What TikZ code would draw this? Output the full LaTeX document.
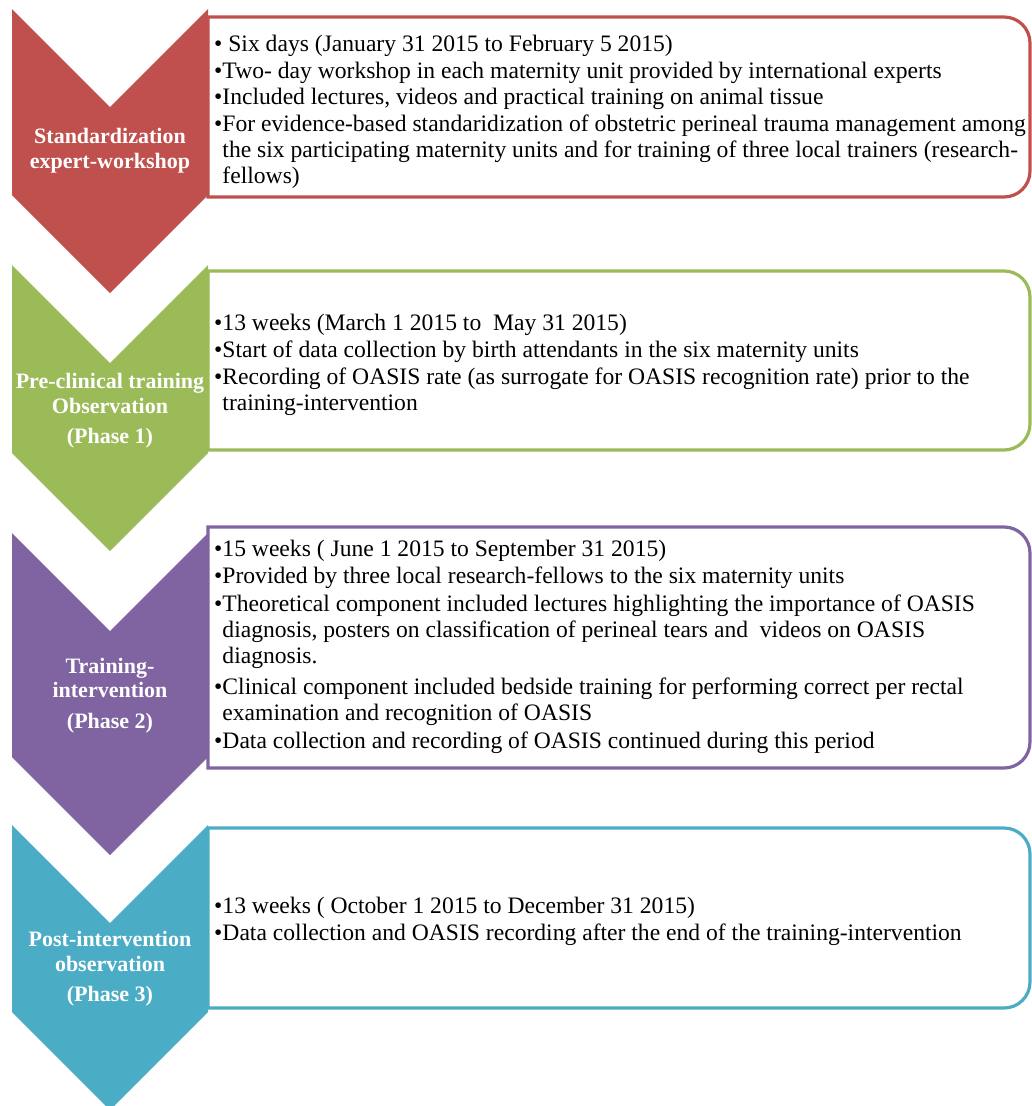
\documentclass[tikz,border=0pt]{standalone}
\usepackage{fontspec}
\setmainfont{Liberation Serif}
\usepackage{tikz}
\usetikzlibrary{calc}
\definecolor{phasered}{HTML}{C0504D}
\definecolor{phasegreen}{HTML}{9BBB59}
\definecolor{phasepurple}{HTML}{8064A2}
\definecolor{phaseteal}{HTML}{4BACC6}
% chevron: top, end of straight sides, colour
\newcommand{\chevronfill}[3]{\fill[#3] (12,#1) -- (110,#1+98) -- (208,#1) -- (208,#2) -- (110,#2+98) -- (12,#2) -- cycle;}
% box with rounded right corners: top, bottom, colour
\newcommand{\phasebox}[3]{\draw[#3,line width=3.2pt,fill=white] (208,#1) -- (1004,#1) .. controls (1018.4,#1) and (1030,#1+11.6) .. (1030,#1+26) -- (1030,#2-26) .. controls (1030,#2-11.6) and (1018.4,#2) .. (1004,#2) -- (208,#2) -- cycle;}
\newcommand{\bl}{\textbullet}
\newcommand{\ind}{\hphantom{\textbullet}}
\tikzset{
  boxtext/.style={anchor=west,inner sep=0pt,align=left,font=\fontsize{23.6}{26.2}\selectfont},
  chevlabel/.style={inner sep=0pt,align=center,text=white,font=\fontsize{22}{24.5}\selectfont\bfseries}
}

\begin{document}
\begin{tikzpicture}[x=1pt,y=-1pt]
        \useasboundingbox (0,0) rectangle (1032,1106);
        %boxes
        \phasebox{17}{197}{phasered}
        \phasebox{271}{450}{phasegreen}
        \phasebox{527}{768}{phasepurple}
        \phasebox{828}{1008}{phaseteal}
        %chevrons
        \chevronfill{9}{195}{phasered}
        \chevronfill{265}{453}{phasegreen}
        \chevronfill{533}{757}{phasepurple}
        \chevronfill{825}{1012}{phaseteal}
        %labels
        \node[chevlabel] (lab1) at (110,150.5) {Standardization\\expert-workshop};
        \node[chevlabel] (lab2) at (110,411) {Pre-clinical training\\Observation\\[6pt](Phase 1)};
        \node[chevlabel] (lab3) at (110,695.5) {Training-\\intervention\\[6pt](Phase 2)};
        \node[chevlabel] (lab4) at (110,969) {Post-intervention\\observation\\[6pt](Phase 3)};
        %texts
        \node[boxtext] (txt1) at (214,112) {\bl{} Six days (January 31 2015 to February 5 2015)\\[0.5pt]
          \bl Two- day workshop in each maternity unit provided by international experts\\[0.5pt]
          \bl Included lectures, videos and practical training on animal tissue\\[0.5pt]
          \bl For evidence-based standaridization of obstetric perineal trauma management among\\
          \ind the six participating maternity units and for training of three local trainers (research-\\
          \ind fellows)};
        \node[boxtext] (txt2) at (214,365) {\bl 13 weeks (March 1 2015 to \ May 31 2015)\\[1pt]
          \bl Start of data collection by birth attendants in the six maternity units\\[1pt]
          \bl Recording of OASIS rate (as surrogate for OASIS recognition rate) prior to the\\
          \ind training-intervention};
        \node[boxtext] (txt3) at (214,647) {\bl 15 weeks ( June 1 2015 to September 31 2015)\\[1pt]
          \bl Provided by three local research-fellows to the six maternity units\\[1pt]
          \bl Theoretical component included lectures highlighting the importance of OASIS\\
          \ind diagnosis, posters on classification of perineal tears and \ videos on OASIS\\
          \ind diagnosis.\\[5pt]
          \bl Clinical component included bedside training for performing correct per rectal\\
          \ind examination and recognition of OASIS\\[1.5pt]
          \bl Data collection and recording of OASIS continued during this period};
        \node[boxtext] (txt4) at (214,921) {\bl 13 weeks ( October 1 2015 to December 31 2015)\\[1pt]
          \bl Data collection and OASIS recording after the end of the training-intervention};
\end{tikzpicture}
\end{document}
